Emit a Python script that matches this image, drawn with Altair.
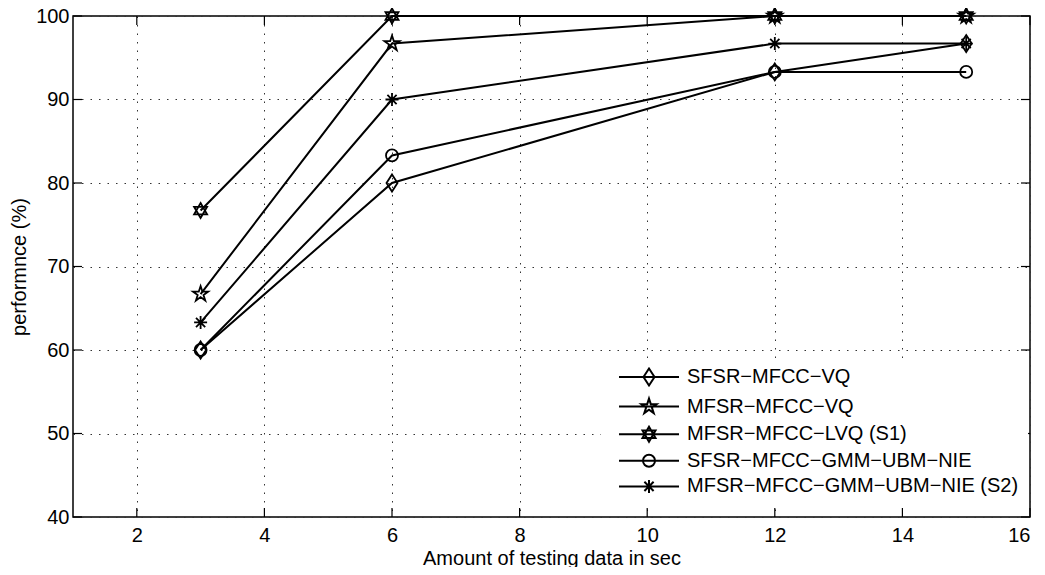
import math
import altair as alt
import pandas as pd

# ---- data ----
seconds = [3, 6, 12, 15]
series_names = [
    "SFSR\u2212MFCC\u2212VQ",
    "MFSR\u2212MFCC\u2212VQ",
    "MFSR\u2212MFCC\u2212LVQ (S1)",
    "SFSR\u2212MFCC\u2212GMM\u2212UBM\u2212NIE",
    "MFSR\u2212MFCC\u2212GMM\u2212UBM\u2212NIE (S2)",
]
sfsr_vq = [60.0, 80.0, 93.3, 96.7]
mfsr_vq = [66.7, 96.7, 100.0, 100.0]
mfsr_lvq = [76.7, 100.0, 100.0, 100.0]
sfsr_gmm = [60.0, 83.3, 93.3, 93.3]
mfsr_gmm = [63.3, 90.0, 96.7, 96.7]
x_ticks = [2, 4, 6, 8, 10, 12, 14, 16]
y_ticks = [40, 50, 60, 70, 80, 90, 100]

values = [sfsr_vq, mfsr_vq, mfsr_lvq, sfsr_gmm, mfsr_gmm]
rows = []
for name, vals in zip(series_names, values):
    for t, v in zip(seconds, vals):
        rows.append({"series": name, "t": t, "perf": v})
df = pd.DataFrame(rows)
xt = pd.DataFrame({"t": x_ticks})
yt = pd.DataFrame({"perf": y_ticks})

# ---- marker shapes (pixel units, used with size=4 => scale 1) ----
def fmt(v):
    return f"{v:.2f}"

def poly(pts, dx=0.0):
    return "M" + "L".join(f"{fmt(x + dx)},{fmt(y)}" for x, y in pts) + "Z"

def diamond(dx=0.0):
    return poly([(0, -8.5), (5.5, 0), (0, 8.5), (-5.5, 0)], dx)

def pentagram(dx=0.0):
    R, r = 8.0, 8.0 * 0.382
    pts = []
    for k in range(10):
        a = math.radians(-90 + 36 * k)
        rad = R if k % 2 == 0 else r
        pts.append((rad * math.cos(a), rad * math.sin(a)))
    return poly(pts, dx)

def hexagram(dx=0.0):
    R = 7.5
    t1 = [(R * math.cos(math.radians(-90 + 120 * k)), R * math.sin(math.radians(-90 + 120 * k))) for k in range(3)]
    t2 = [(R * math.cos(math.radians(90 + 120 * k)), R * math.sin(math.radians(90 + 120 * k))) for k in range(3)]
    return poly(t1, dx) + poly(t2, dx)

def circle(dx=0.0):
    r = 6.0
    return f"M{fmt(dx + r)},0A{r},{r} 0 1,1 {fmt(dx - r)},0A{r},{r} 0 1,1 {fmt(dx + r)},0Z"

def asterisk(dx=0.0):
    R = 6.5
    d = R * 0.7071
    return (f"M{fmt(dx)},{-R}L{fmt(dx)},{R}M{fmt(dx - R)},0L{fmt(dx + R)},0"
            f"M{fmt(dx - d)},{fmt(-d)}L{fmt(dx + d)},{fmt(d)}M{fmt(dx - d)},{fmt(d)}L{fmt(dx + d)},{fmt(-d)}")

makers = [diamond, pentagram, hexagram, circle, asterisk]
plot_shapes = [m() for m in makers]
legend_shapes = ["M0,0L60,0" + m(30.0) for m in makers]

W, H = 957, 501
FONT = "Liberation Sans"

x_enc = alt.X("t:Q", scale=alt.Scale(domain=[1, 16], nice=False, zero=False),
              axis=alt.Axis(values=x_ticks, format="d", title="Amount of testing data in sec",
                            grid=True, ticks=False, tickSize=0, domain=False,
                            labelPadding=8, titlePadding=3))
y_enc = alt.Y("perf:Q", scale=alt.Scale(domain=[40, 100], nice=False, zero=False),
              axis=alt.Axis(values=y_ticks, format="d", title="performnce (%)",
                            grid=True, ticks=False, tickSize=0, domain=False,
                            labelPadding=4, titlePadding=6))

lines = alt.Chart(df).mark_line(color="black", strokeWidth=2).encode(
    x=x_enc, y=y_enc, detail="series:N", order="t:Q")

points = alt.Chart(df).mark_point(filled=False, color="black", size=4, strokeWidth=1.8, opacity=1).encode(
    x="t:Q", y="perf:Q",
    shape=alt.Shape("series:N", scale=alt.Scale(domain=series_names, range=plot_shapes), legend=None))

legend_layer = alt.Chart(df).transform_filter("false").mark_point(
    filled=False, color="black", size=4, strokeWidth=2, opacity=1).encode(
    x="t:Q", y="perf:Q",
    shape=alt.Shape("series:N", scale=alt.Scale(domain=series_names, range=legend_shapes),
                    legend=alt.Legend(title=None, orient="none", legendX=528, legendY=343,
                                      padding=8, fillColor="white", strokeColor="white",
                                      labelFont=FONT, labelFontSize=20, labelColor="black",
                                      labelOffset=58, rowPadding=4.6, labelLimit=600,
                                      symbolStrokeWidth=2, symbolStrokeColor="black",
                                      symbolFillColor="transparent", symbolSize=4)))

tick_b = alt.Chart(xt).mark_rule(color="black", strokeWidth=1.2).encode(
    x="t:Q", y=alt.value(H), y2=alt.value(H - 9))
tick_t = alt.Chart(xt).mark_rule(color="black", strokeWidth=1.2).encode(
    x="t:Q", y=alt.value(0), y2=alt.value(9))
tick_l = alt.Chart(yt).mark_rule(color="black", strokeWidth=1.2).encode(
    y="perf:Q", x=alt.value(0), x2=alt.value(9))
tick_r = alt.Chart(yt).mark_rule(color="black", strokeWidth=1.2).encode(
    y="perf:Q", x=alt.value(W), x2=alt.value(W - 9))

chart = alt.layer(lines, tick_b, tick_t, tick_l, tick_r, points, legend_layer).resolve_scale(
    shape="independent"
).properties(
    width=W, height=H,
    autosize=alt.AutoSizeParams(type="none"),
    padding={"left": 65, "top": 8, "right": 7, "bottom": 50},
    background="white",
).configure_view(
    stroke="black", strokeWidth=1.5
).configure_axis(
    labelFont=FONT, labelFontSize=20, labelColor="black",
    titleFont=FONT, titleFontSize=20, titleFontWeight="normal", titleColor="black",
    gridColor="#333333", gridDash=[1.5, 7], gridWidth=1, gridOpacity=1,
)

chart.save("out.html", embed_options={"renderer": "svg", "actions": False})
